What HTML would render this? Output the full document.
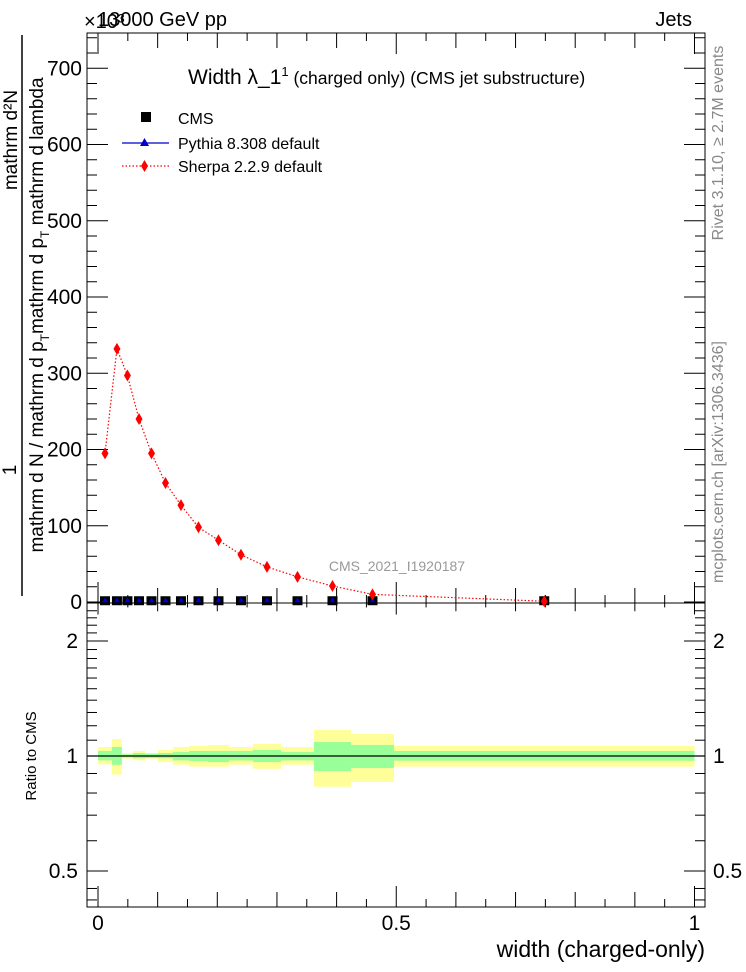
<!DOCTYPE html>
<html><head><meta charset="utf-8"><style>
body{margin:0;background:#fff;}
svg{display:block;font-family:"Liberation Sans",sans-serif;}
</style></head><body>
<svg id="c" width="746" height="972" viewBox="0 0 746 972" xmlns="http://www.w3.org/2000/svg">
<rect x="87" y="33" width="618" height="570" fill="none" stroke="#000" stroke-width="1"/>
<rect x="87" y="603" width="618" height="304" fill="none" stroke="#000" stroke-width="1"/>
<g id="bands"></g>
<g id="ticks"></g>
<g id="marks"></g>
<text x="84" y="28" font-size="20">×10³</text>
<text x="98" y="26" font-size="20">13000 GeV pp</text>
<text x="692" y="26" font-size="20" text-anchor="end">Jets</text>
<text x="188" y="84" font-size="21">Width λ_1<tspan font-size="13" dy="-8">1</tspan><tspan font-size="17.5" dy="8"> (charged only) (CMS jet substructure)</tspan></text>
<g>
<rect x="141" y="112" width="10" height="10" fill="#000"/>
<text x="178" y="124" font-size="16">CMS</text>
<line x1="122" y1="143" x2="169" y2="143" stroke="#0000cc" stroke-width="1.2"/>
<polygon points="144.5,138 140,146 149,146" fill="#0000cc"/>
<text x="178" y="149" font-size="16">Pythia 8.308 default</text>
<line x1="122" y1="166" x2="169" y2="166" stroke="#f00" stroke-width="1.2" stroke-dasharray="1.5,2"/>
<polygon points="144.5,160 148,166 144.5,172 141,166" fill="#f00"/>
<text x="178" y="172" font-size="16">Sherpa 2.2.9 default</text>
</g>
<text x="397" y="571" font-size="14" fill="#999" text-anchor="middle">CMS_2021_I1920187</text>
<g font-size="19">
<text transform="translate(16,470) rotate(-90)" text-anchor="middle">1</text>
<line x1="22" y1="35" x2="22" y2="596" stroke="#000" stroke-width="1.5"/>
<text transform="translate(17,140) rotate(-90)" text-anchor="middle">mathrm d²N</text>
<text transform="translate(43,315) rotate(-90)" text-anchor="middle">mathrm d N / mathrm d p<tspan font-size="12" dy="6">T</tspan><tspan dy="-6">mathrm d p</tspan><tspan font-size="12" dy="6">T</tspan><tspan dy="-6"> mathrm d lambda</tspan></text>
</g>
<text transform="translate(36,756) rotate(-90)" font-size="15" text-anchor="middle">Ratio to CMS</text>
<text x="705" y="957" font-size="23" text-anchor="end">width (charged-only)</text>
<text transform="translate(723,143) rotate(-90)" font-size="16" fill="#888" text-anchor="middle">Rivet 3.1.10, ≥ 2.7M events</text>
<text transform="translate(723,462) rotate(-90)" font-size="16" fill="#888" text-anchor="middle">mcplots.cern.ch [arXiv:1306.3436]</text>
</svg>
<script>
const edges=[0,0.0235,0.040,0.0587,0.0788,0.1006,0.1257,0.1525,0.1844,0.2196,0.2598,0.3068,0.3621,0.4241,0.4962,1.0];
const sherpa=[195,332,297,240,195,156,127,98,81,62,46,33,21,10,1];
const pythia=[1,1,1,1,1,1,1,1,1,1,1,1,1,1,1];
const cms=[1,1,1,1,1,1,1,1,1,1,1,1,1,1,1];
const yelUp=[1.056,1.108,1.018,1.031,1.018,1.037,1.056,1.062,1.069,1.056,1.075,1.056,1.170,1.142,1.062];
const yelDn=[0.951,0.894,0.984,0.974,0.984,0.964,0.949,0.938,0.938,0.949,0.926,0.949,0.831,0.855,0.938];
const grnUp=[1.031,1.056,1.010,1.018,1.014,1.018,1.024,1.031,1.031,1.031,1.037,1.024,1.088,1.069,1.031];
const grnDn=[0.974,0.949,0.992,0.986,0.988,0.986,0.974,0.970,0.964,0.974,0.964,0.974,0.913,0.930,0.972];
const yTicks=[0,100,200,300,400,500,600,700];
const rTicks=[0.5,1,2];
const xTicks=[0,0.5,1];
const NS="http://www.w3.org/2000/svg";
const X=v=>98+v*596.5;
const Y=v=>602-v*0.7625;
const R=v=>756-Math.log10(v)*382;
function mk(p,t,a){const e=document.createElementNS(NS,t);for(const k in a)e.setAttribute(k,a[k]);p.appendChild(e);return e;}
const bands=document.getElementById('bands'),ticks=document.getElementById('ticks'),marks=document.getElementById('marks');
for(let i=0;i<sherpa.length;i++){
 const x0=X(edges[i]),x1=Math.min(X(edges[i+1]),704);
 const y=mk(bands,'rect',{x:x0,y:R(yelUp[i]),width:x1-x0,height:R(yelDn[i])-R(yelUp[i]),fill:'#ffff99'});
 
 
 const g=mk(bands,'rect',{x:x0,y:R(grnUp[i]),width:x1-x0,height:R(grnDn[i])-R(grnUp[i]),fill:'#99ff99'});
 
 
}
const ref=mk(bands,'line',{x1:87,x2:705,y1:R(1),y2:R(1),stroke:'#000','stroke-width':1.2});


for(let v=0;v<=740;v+=20){const maj=v%100===0;const L=maj?21:10;
 mk(ticks,'line',{x1:87,x2:87+L,y1:Y(v),y2:Y(v),stroke:'#000'});
 mk(ticks,'line',{x1:705,x2:705-L,y1:Y(v),y2:Y(v),stroke:'#000'});}
yTicks.forEach(v=>{const t=mk(ticks,'text',{x:82,y:Y(v)+7,'font-size':21,'text-anchor':'end'});t.textContent=v;
 
 });
for(let v=0.5;v<=2.5;v+=0.1){const vv=Math.round(v*10)/10;if(R(vv)<604||R(vv)>906)continue;const maj=(vv===0.5||vv===1||vv===2);const L=maj?21:10;
 mk(ticks,'line',{x1:87,x2:87+L,y1:R(vv),y2:R(vv),stroke:'#000'});
 mk(ticks,'line',{x1:705,x2:705-L,y1:R(vv),y2:R(vv),stroke:'#000'});}
[0.45,0.42].forEach(vv=>{mk(ticks,'line',{x1:87,x2:97,y1:R(vv),y2:R(vv),stroke:'#000'});mk(ticks,'line',{x1:705,x2:695,y1:R(vv),y2:R(vv),stroke:'#000'});});
rTicks.forEach(v=>{const t=mk(ticks,'text',{x:78,y:R(v)+7,'font-size':21,'text-anchor':'end'});t.textContent=v;
 
 
 const t2=mk(ticks,'text',{x:713,y:R(v)+7,'font-size':21});t2.textContent=v;
 
 });
for(let k=0;k<=20;k++){const v=k*0.05;const maj=(k%10===0);const mid=(k%2===0);const L=maj?21:(mid?15:8);
 mk(ticks,'line',{x1:X(v),x2:X(v),y1:603,y2:603-L,stroke:'#000'});
 mk(ticks,'line',{x1:X(v),x2:X(v),y1:603,y2:603+L*0.55,stroke:'#000'});
 mk(ticks,'line',{x1:X(v),x2:X(v),y1:907,y2:907-L,stroke:'#000'});
 mk(ticks,'line',{x1:X(v),x2:X(v),y1:33,y2:33+L,stroke:'#000'});}
xTicks.forEach(v=>{const t=mk(ticks,'text',{x:X(v),y:930,'font-size':21,'text-anchor':'middle'});t.textContent=v;
 
 });
const cx=i=>(X(edges[i])+X(edges[i+1]))/2;
cms.forEach((v,i)=>{const r=mk(marks,'rect',{x:cx(i)-5,y:Y(v)-5,width:10,height:9,fill:'#000'});
 
 });
pythia.forEach((v,i)=>{const p=mk(marks,'polygon',{points:`${cx(i)},${Y(v)-4} ${cx(i)-3},${Y(v)+1} ${cx(i)+3},${Y(v)+1}`,fill:'#0000cc'});
 
 });
const pl=mk(marks,'polyline',{points:sherpa.map((v,i)=>cx(i)+','+Y(v)).join(' '),fill:'none',stroke:'#f00','stroke-width':1.2,'stroke-dasharray':'1.5,2'});


sherpa.forEach((v,i)=>{const x=cx(i),y=Y(v);const d=mk(marks,'polygon',{points:`${x},${y-6} ${x+3.5},${y} ${x},${y+6} ${x-3.5},${y}`,fill:'#f00'});
 
 });
</script>
</body></html>
